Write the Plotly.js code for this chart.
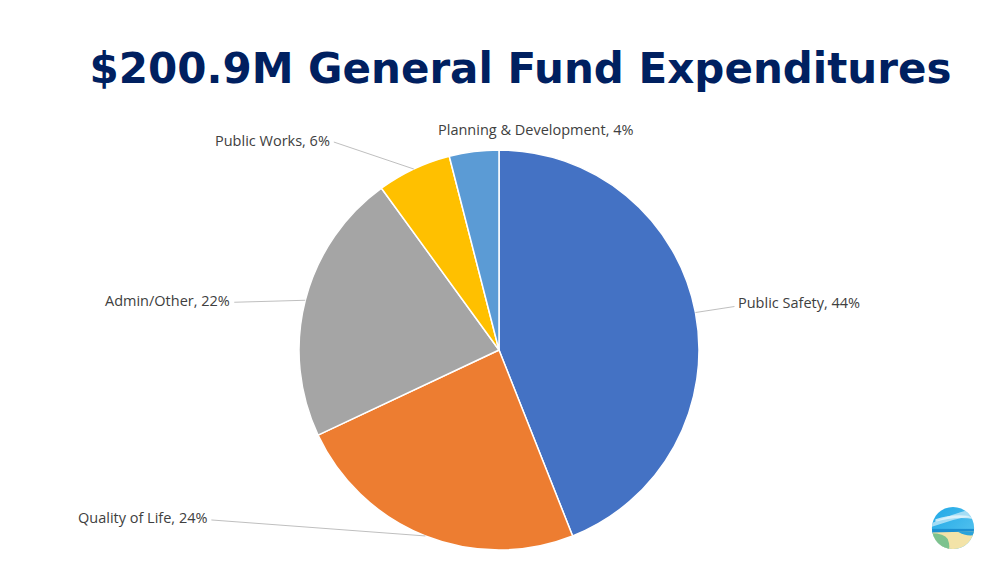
<!DOCTYPE html>
<html>
<head>
<meta charset="utf-8">
<script src="https://cdn.plot.ly/plotly-3.0.1.min.js"></script>
<style>html,body{margin:0;padding:0;background:#fff;}#chart{width:1000px;height:561px;}</style>
</head>
<body>
<div id="chart"></div>
<script>
const categories = ["Public Safety", "Quality of Life", "Admin/Other", "Public Works", "Planning & Development"];
const percents = [44, 24, 22, 6, 4];
const colors = ["#4472C4", "#ED7D31", "#A5A5A5", "#FFC000", "#5B9BD5"];

const W = 1000, H = 561;
const cx = 499, cy = 350, R = 200;

// label placement (layout only): text anchor offset from slice edge, and whether to draw a leader
const labelLayout = [
  {dx: 41, dy: -10, xanchor: "left", line: true},
  {dx: -216, dy: -18, xanchor: "right", line: true},
  {dx: -73, dy: 0, xanchor: "right", line: true},
  {dx: -82, dy: -29, xanchor: "right", line: true},
  {dx: 62, dy: -22, xanchor: "center", line: false}
];

const total = percents.reduce((a, b) => a + b, 0);
const annotations = [];
const shapes = [];
let cum = 0;
percents.forEach((v, i) => {
  const mid = (cum + v / 2) / total * 2 * Math.PI;
  cum += v;
  const ex = cx + R * Math.sin(mid), ey = cy - R * Math.cos(mid);
  const L = labelLayout[i];
  const tx = ex + L.dx, ty = ey + L.dy;
  annotations.push({
    x: tx / W, y: 1 - ty / H, xref: "paper", yref: "paper",
    xanchor: L.xanchor, yanchor: "middle", showarrow: false,
    text: categories[i] + ", " + Math.round(v / total * 100) + "%",
    font: {family: "Open Sans, sans-serif", size: 14.5, color: "#404040"}
  });
  if (L.line) {
    const lx = L.xanchor === "left" ? tx - 2 : tx + 2;
    shapes.push({
      type: "line", xref: "paper", yref: "paper",
      x0: ex / W, y0: 1 - ey / H, x1: lx / W, y1: 1 - (ty + (L.xanchor === "left" ? 4 : 2)) / H,
      line: {color: "#BFBFBF", width: 1}
    });
  }
});

const logoSvg = '<svg xmlns="http://www.w3.org/2000/svg" width="100" height="100" viewBox="0 0 100 100">' +
  '<defs><clipPath id="c"><circle cx="50" cy="50" r="48"/></clipPath>' +
  '<linearGradient id="s" x1="0" y1="0" x2="1" y2="1"><stop offset="0" stop-color="#1EA7E6"/><stop offset="1" stop-color="#5FC8F0"/></linearGradient></defs>' +
  '<g clip-path="url(#c)">' +
  '<rect width="100" height="100" fill="url(#s)"/>' +
  '<path d="M0 40 Q40 20 100 5 L100 20 Q50 30 0 48 Z" fill="#BFE7F8" opacity="0.8"/>' +
  '<path d="M10 30 Q55 15 100 25 L100 30 Q55 22 10 36 Z" fill="#E6F6FD" opacity="0.8"/>' +
  '<rect y="52" width="100" height="10" fill="#1B8FD0"/>' +
  '<path d="M0 60 L100 58 L100 100 L0 100 Z" fill="#F3E3A8"/>' +
  '<path d="M0 62 Q30 62 38 75 Q44 90 40 100 L0 100 Z" fill="#7CC28E"/>' +
  '<path d="M60 58 Q80 70 100 66 L100 58 Z" fill="#2AA3DB"/>' +
  '</g></svg>';

const data = [{
  type: "pie",
  labels: categories,
  values: percents,
  sort: false,
  direction: "clockwise",
  rotation: 0,
  marker: {colors: colors, line: {color: "#FFFFFF", width: 1.5}},
  textinfo: "none",
  hoverinfo: "label+percent",
  showlegend: false,
  domain: {x: [(cx - R) / W, (cx + R) / W], y: [1 - (cy + R) / H, 1 - (cy - R) / H]}
}];

const layout = {
  width: W, height: H,
  margin: {l: 0, r: 0, t: 0, b: 0},
  paper_bgcolor: "#FFFFFF",
  title: {
    text: "<b>$200.9M General Fund Expenditures</b>",
    x: 0.5205, xanchor: "center", y: 1 - 68 / H, yanchor: "middle", yref: "container",
    font: {family: "DejaVu Sans, Verdana, sans-serif", size: 42, color: "#002060"}
  },
  annotations: annotations,
  shapes: shapes,
  images: [{
    source: "data:image/svg+xml;charset=utf-8," + encodeURIComponent(logoSvg),
    xref: "paper", yref: "paper", x: 931 / W, y: 1 - 506 / H, sizex: 44 / W, sizey: 44 / H,
    xanchor: "left", yanchor: "top", sizing: "contain"
  }]
};

Plotly.newPlot("chart", data, layout, {displayModeBar: false, staticPlot: true});
</script>
</body>
</html>
